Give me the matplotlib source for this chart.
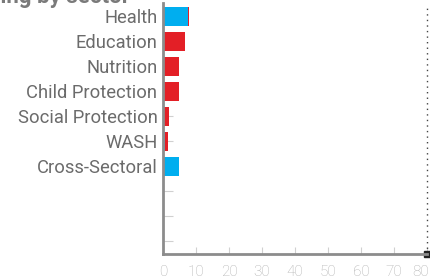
import matplotlib
matplotlib.use("Agg")
import matplotlib.pyplot as plt
from matplotlib.ticker import FuncFormatter

plt.rcParams['font.family'] = ['Roboto', 'DejaVu Sans']

# funding by sector, millions
categories = ['Health', 'Education', 'Nutrition', 'Child Protection',
              'Social Protection', 'WASH', 'Cross-Sectoral', '', '', '']
funded_blue = [7.5, 0.0, 0.2, 0.2, 0.2, 0.5, 4.8, 0, 0, 0]
funded_red = [0.3, 6.7, 4.6, 4.6, 1.6, 1.0, 0.0, 0, 0, 0]
xticks = [0, 10, 20, 30, 40, 50, 60, 70, 80]

BLUE = '#00aeef'
RED = '#e31f26'
AXIS = '#8c8c8c'

fig = plt.figure(figsize=(4.3, 2.8), dpi=100)
ax = fig.add_axes([163 / 430, 1 - 254 / 280, (427 - 163) / 430, (254 - 3.5) / 280])
ax.set_axisbelow(True)

pos = list(range(len(categories)))
ax.barh(pos, funded_blue, height=0.76, color=BLUE, linewidth=0)
ax.barh(pos, funded_red, left=funded_blue, height=0.76, color=RED, linewidth=0)

ax.set_xlim(0, 80)
ax.set_ylim(len(categories) - 0.5, -0.5)
ax.set_yticks(pos)
ax.set_yticklabels(categories, fontsize=13.2, color='#6b6b6b')
ax.set_xticks(xticks)
ax.xaxis.set_major_formatter(FuncFormatter(lambda v, p: f"{v:.0f}M" if v == 80 else f"{v:.0f}"))

ax.tick_params(axis='y', direction='in', length=7, width=0.8, color='#d0d0d0', pad=4)
ax.tick_params(axis='x', direction='in', length=5, width=0.8, color='#d0d0d0',
               labelsize=11, labelcolor='#b0b0b0', pad=8)
for lab in ax.get_xticklabels():
    lab.set_fontweight('light')

for s in ['top', 'right']:
    ax.spines[s].set_visible(False)
ax.spines['left'].set_color(AXIS)
ax.spines['left'].set_linewidth(2)
ax.spines['bottom'].set_color(AXIS)
ax.spines['bottom'].set_linewidth(2)

ax.axvline(80, color='#444444', linestyle=(0, (1, 3)), linewidth=1, clip_on=False)
ax.plot([80], [len(categories) - 0.5], marker='s', color='#222222', markersize=4, clip_on=False)

fig.text(130 / 430, 1 - 3 / 280, 'Funding by sector', ha='right', va='baseline',
         fontsize=16, fontweight='bold', color='#7a7a7a')

fig.savefig('out.png', dpi=100)
